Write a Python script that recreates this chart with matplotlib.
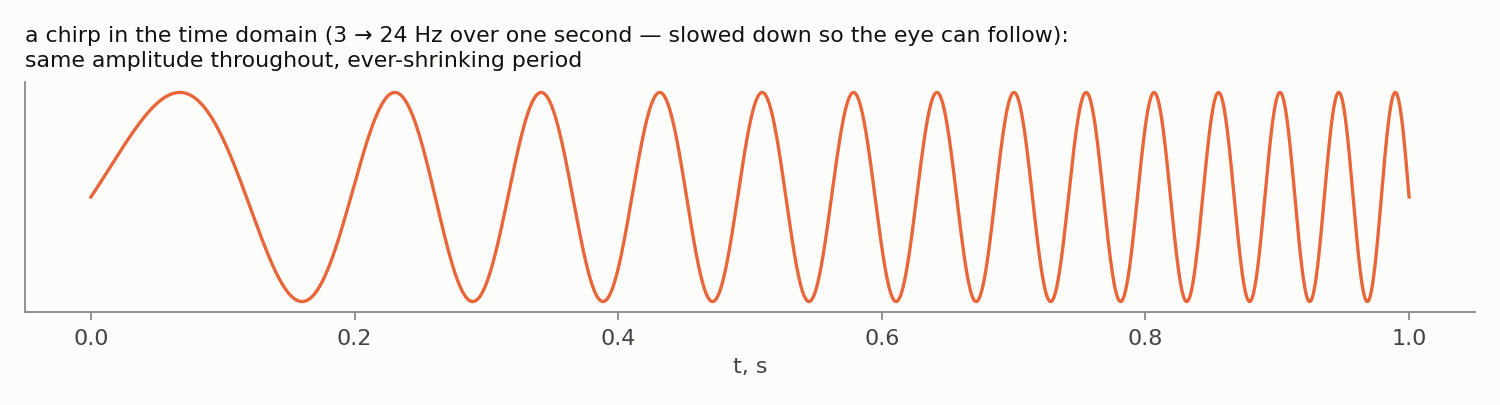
import numpy as np
import matplotlib
matplotlib.use('Agg')
import matplotlib.pyplot as plt

# chirp parameters read from the title
f_start = 3.0     # Hz
f_end = 24.0      # Hz
duration = 1.0    # s
n_samples = 2000

t = np.linspace(0, duration, n_samples)
k = (f_end - f_start) / duration
signal = np.sin(2 * np.pi * (f_start * t + 0.5 * k * t ** 2))

xticks = [0.0, 0.2, 0.4, 0.6, 0.8, 1.0]
xticklabels = ['0.0', '0.2', '0.4', '0.6', '0.8', '1.0']

bg = '#fcfcfa'
fig = plt.figure(figsize=(15, 4.05), dpi=100, facecolor=bg)
ax = fig.add_axes([25 / 1500, 1 - 312 / 405, 1450 / 1500, 230 / 405])
ax.set_facecolor(bg)

ax.plot(t, signal, color='#e8673a', linewidth=2.4)

ax.set_xticks(xticks)
ax.set_xticklabels(xticklabels)
ax.set_yticks([])
ax.margins(x=0.05, y=0.05)
for side in ['top', 'right']:
    ax.spines[side].set_visible(False)
for side in ['left', 'bottom']:
    ax.spines[side].set_color('#888888')
    ax.spines[side].set_linewidth(1.3)
ax.tick_params(axis='x', colors='#888888', labelcolor='#444444', labelsize=16, length=6, width=1.3, pad=6)
ax.set_xlabel('t, s', fontsize=16, color='#444444', labelpad=6)

ax.set_title('a chirp in the time domain (3 \u2192 24 Hz over one second \u2014 slowed down so the eye can follow):\n'
             'same amplitude throughout, ever-shrinking period',
             loc='left', fontsize=15.8, color='#111111', pad=10.5, linespacing=1.32)

fig.savefig('out.png', dpi=100, facecolor=bg)
